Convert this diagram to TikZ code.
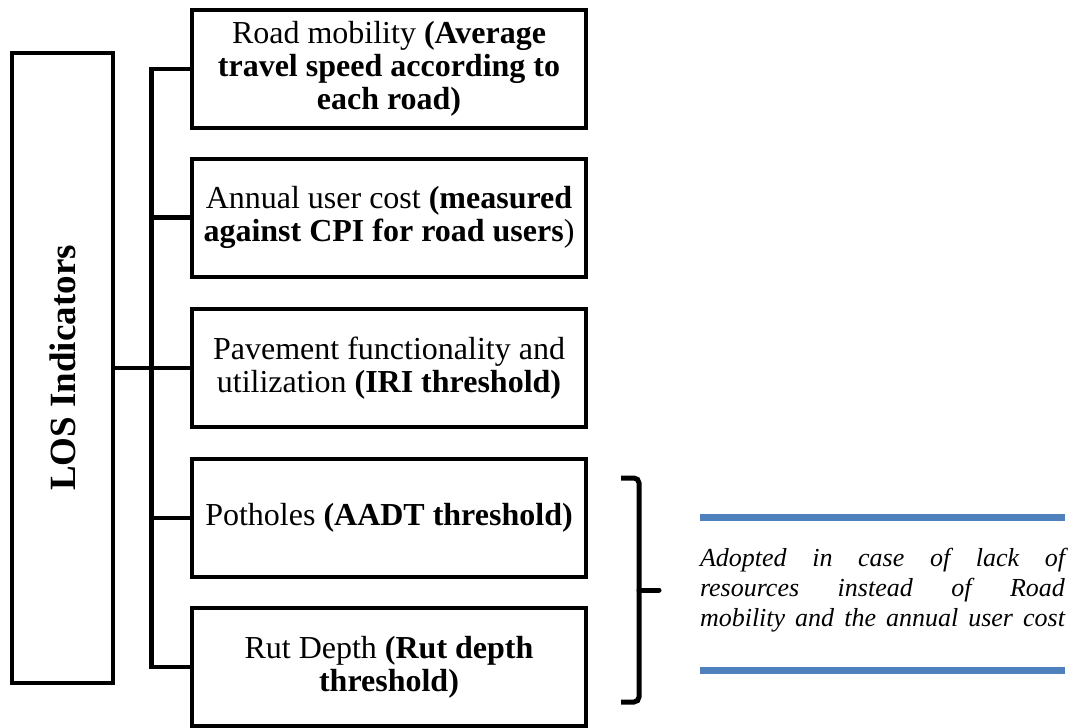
\documentclass[tikz,border=0pt]{standalone}
\usepackage{fontspec}
\setmainfont{Liberation Serif}
\definecolor{lineblue}{HTML}{4F81BD}
\begin{document}
\begin{tikzpicture}[x=1pt,y=-1pt,
  box/.style={draw, line width=4pt, minimum width=394pt, minimum height=118pt,
    align=center, inner sep=0pt, font=\fontsize{32}{33}\selectfont},
  conn/.style={line width=4.5pt},
  bracestyle/.style={line width=5pt},
  note/.style={font=\fontsize{26}{30}\itshape\selectfont, align=left, inner sep=0pt},
  bluerule/.style={draw=lineblue, line width=7pt}]
\useasboundingbox (0,0) rectangle (1068,728);
% left box
\node[draw, line width=4.5pt, minimum width=101pt, minimum height=630pt, inner sep=0pt] (los) at (62.5,368) {};
\node[rotate=90, font=\fontsize{37}{40}\bfseries\selectfont, inner sep=0pt] (lostext) at (los.center) {LOS Indicators};
% right boxes
\node[box] (b1) at (389,69) {Road mobility \textbf{(Average}\\\textbf{travel speed according to}\\\textbf{each road)}};
\node[box] (b2) at (389,217.5) {Annual user cost \textbf{(measured}\\\textbf{against CPI for road users})};
\node[box] (b3) at (389,368) {Pavement functionality and\\utilization \textbf{(IRI threshold)}};
\node[box] (b4) at (389,518) {Potholes \textbf{(AADT threshold)}};
\node[box] (b5) at (389,667) {Rut Depth \textbf{(Rut depth}\\\textbf{threshold)}};
% connectors
\draw[conn] (b1.west) -- ++(-38.5,0) coordinate (s1) -- (s1 |- b5.west) -- (b5.west);
\draw[conn] (b2.west) -- (b2.west -| s1);
\draw[conn] (b3.west) -- (b3.west -| s1);
\draw[conn] (b4.west) -- (b4.west -| s1);
\draw[conn] (los.east) -- (los.east -| s1);
% brace
\coordinate (brtop) at (621,478);
\coordinate (brbot) at (621,702);
\coordinate (brmid) at (639,590);
\draw[bracestyle, rounded corners=5pt] (brtop) -- (639,478) -- (639,702) -- (brbot);
\draw[bracestyle, line cap=round] (brmid) -- ++(20,0) coordinate (brtip);
% note
\coordinate (r1a) at (700,517);
\coordinate (r1b) at (1065,517);
\coordinate (r2a) at (700,670);
\coordinate (r2b) at (1065,670);
\draw[bluerule] (r1a) -- (r1b);
\draw[bluerule] (r2a) -- (r2b);
\node[note] (notetext) at (882.5,590) {\makebox[365pt][s]{Adopted in case of lack of}\\
\makebox[365pt][s]{resources instead of Road}\\
\makebox[365pt][s]{mobility and the annual user cost}};
\end{tikzpicture}
\end{document}
